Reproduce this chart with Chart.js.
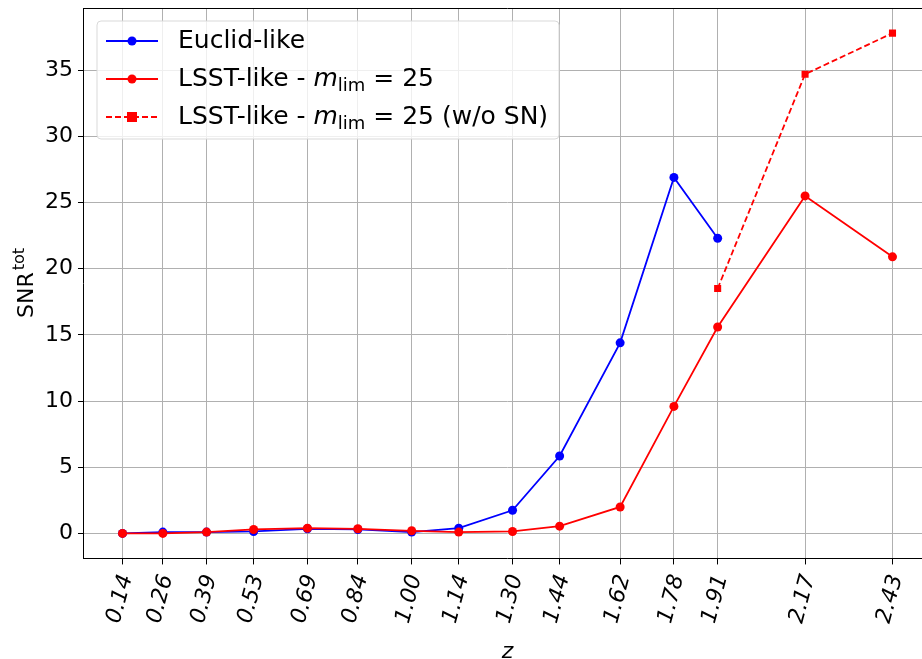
<!DOCTYPE html>
<html>
<head>
<meta charset="utf-8">
<script src="https://cdn.jsdelivr.net/npm/chart.js@4.4.1/dist/chart.umd.min.js"></script>
<style>
  html, body { margin: 0; padding: 0; background: #fff; overflow: hidden; }
  #wrap { width: 940px; height: 659px; position: relative; }
</style>
</head>
<body>
<div id="wrap"><canvas id="snrChart"></canvas></div>
<script>
// redshift bins (x positions) and their tick labels
const zBins = [0.14, 0.26, 0.39, 0.53, 0.69, 0.84, 1.00, 1.14, 1.30, 1.44, 1.62, 1.78, 1.91, 2.17, 2.43];
const zLabels = ['0.14', '0.26', '0.39', '0.53', '0.69', '0.84', '1.00', '1.14', '1.30', '1.44', '1.62', '1.78', '1.91', '2.17', '2.43'];
const yTicks = [0, 5, 10, 15, 20, 25, 30, 35];

// SNR values
const euclidSNR = [0.0, 0.1, 0.1, 0.15, 0.35, 0.3, 0.1, 0.4, 1.75, 5.85, 14.4, 26.9, 22.3];
const lsstSNR = [0.0, 0.0, 0.1, 0.3, 0.4, 0.35, 0.2, 0.1, 0.15, 0.55, 2.0, 9.6, 15.6, 25.5, 20.9];
const lsstNoSN_z = [1.91, 2.17, 2.43];
const lsstNoSN = [18.5, 34.7, 37.8];

const FONT = "'DejaVu Sans', sans-serif";

function toXY(xs, ys) {
    return ys.map((y, i) => ({ x: xs[i], y: y }));
}

// legend with the m_lim subscript, drawn by hand
const mathLegend = {
    id: 'mathLegend',
    afterDraw(chart) {
        const ctx = chart.ctx;
        const x0 = 97, y0 = 21, w = 462, h = 118;
        ctx.save();
        ctx.beginPath();
        ctx.roundRect(x0, y0, w, h, 4);
        ctx.fillStyle = 'rgba(255,255,255,0.8)';
        ctx.fill();
        ctx.strokeStyle = '#d9d9d9';
        ctx.lineWidth = 1;
        ctx.stroke();

        const rows = [41, 79, 117];
        chart.data.datasets.forEach((ds, i) => {
            const y = rows[i];
            ctx.strokeStyle = ds.borderColor;
            ctx.lineWidth = ds.borderWidth;
            ctx.setLineDash(ds.borderDash || []);
            ctx.beginPath();
            ctx.moveTo(106, y);
            ctx.lineTo(158, y);
            ctx.stroke();
            ctx.setLineDash([]);
            ctx.fillStyle = ds.pointBackgroundColor;
            if (ds.pointStyle === 'rect') {
                ctx.fillRect(132 - 5, y - 5, 10, 10);
            } else {
                ctx.beginPath();
                ctx.arc(132, y, 4.5, 0, Math.PI * 2);
                ctx.fill();
            }

            ctx.fillStyle = '#000';
            ctx.textBaseline = 'middle';
            ctx.textAlign = 'left';
            let tx = 178;
            ds.legendParts.forEach(p => {
                if (p.sub) {
                    ctx.font = `18px ${FONT}`;
                    ctx.fillText(p.t, tx, y + 7);
                } else if (p.it) {
                    ctx.font = `italic 25px ${FONT}`;
                    ctx.fillText(p.t, tx, y);
                } else {
                    ctx.font = `25px ${FONT}`;
                    ctx.fillText(p.t, tx, y);
                }
                tx += ctx.measureText(p.t).width;
            });
        });
        ctx.restore();
    }
};

// y title with superscript, plus the top spine
const extras = {
    id: 'extras',
    afterDraw(chart) {
        const ctx = chart.ctx;
        const area = chart.chartArea;
        ctx.save();
        ctx.strokeStyle = '#000';
        ctx.lineWidth = 1;
        ctx.beginPath();
        ctx.moveTo(area.left, area.top + 0.5);
        ctx.lineTo(area.right, area.top + 0.5);
        ctx.stroke();

        ctx.translate(33, 283);
        ctx.rotate(-Math.PI / 2);
        ctx.fillStyle = '#000';
        ctx.textBaseline = 'alphabetic';
        ctx.textAlign = 'left';
        ctx.font = `22px ${FONT}`;
        const mw = ctx.measureText('SNR').width;
        ctx.font = `16px ${FONT}`;
        const sw = ctx.measureText('tot').width;
        const start = -(mw + sw + 2) / 2;
        ctx.font = `22px ${FONT}`;
        ctx.fillText('SNR', start, 0);
        ctx.font = `16px ${FONT}`;
        ctx.fillText('tot', start + mw + 2, -9);
        ctx.restore();
    }
};

new Chart(document.getElementById('snrChart').getContext('2d'), {
    type: 'line',
    data: {
        datasets: [
            {
                label: 'Euclid-like',
                legendParts: [{ t: 'Euclid-like' }],
                data: toXY(zBins, euclidSNR),
                borderColor: '#0000ff',
                pointBackgroundColor: '#0000ff',
                pointBorderColor: '#0000ff',
                borderWidth: 1.8,
                pointRadius: 4.5,
                pointBorderWidth: 0,
                order: 3
            },
            {
                label: 'LSST-like - m_lim = 25',
                legendParts: [{ t: 'LSST-like - ' }, { t: 'm', it: true }, { t: 'lim', sub: true }, { t: ' = 25' }],
                data: toXY(zBins, lsstSNR),
                borderColor: '#ff0000',
                pointBackgroundColor: '#ff0000',
                pointBorderColor: '#ff0000',
                borderWidth: 1.8,
                pointRadius: 4.5,
                pointBorderWidth: 0,
                order: 2
            },
            {
                label: 'LSST-like - m_lim = 25 (w/o SN)',
                legendParts: [{ t: 'LSST-like - ' }, { t: 'm', it: true }, { t: 'lim', sub: true }, { t: ' = 25 (w/o SN)' }],
                data: toXY(lsstNoSN_z, lsstNoSN),
                borderColor: '#ff0000',
                pointBackgroundColor: '#ff0000',
                pointBorderColor: '#ff0000',
                borderWidth: 1.8,
                borderDash: [6, 3],
                pointStyle: 'rect',
                pointRadius: 5,
                pointBorderWidth: 0,
                order: 1
            }
        ]
    },
    options: {
        responsive: true,
        maintainAspectRatio: false,
        animation: false,
        layout: { padding: { top: 8, left: 40, right: 9, bottom: -6 } },
        plugins: {
            legend: { display: false },
            tooltip: { enabled: false }
        },
        scales: {
            x: {
                type: 'linear',
                min: 0.0255,
                max: 2.5445,
                afterBuildTicks: (scale) => {
                    scale.ticks = zBins.map(v => ({ value: v }));
                },
                ticks: {
                    callback: (value, index) => zLabels[index],
                    minRotation: 75,
                    maxRotation: 75,
                    autoSkip: false,
                    labelOffset: 4,
                    padding: 7.5,
                    color: '#000',
                    font: { family: FONT, size: 22, style: 'italic' }
                },
                grid: {
                    color: '#b0b0b0',
                    tickColor: '#000',
                    tickLength: 6,
                    lineWidth: 1
                },
                border: { color: '#000', width: 1 },
                title: {
                    display: true,
                    text: 'z',
                    color: '#000',
                    padding: { top: 5, bottom: 0 },
                    font: { family: FONT, size: 22, style: 'italic' }
                }
            },
            y: {
                type: 'linear',
                min: -1.89,
                max: 39.7,
                afterBuildTicks: (scale) => {
                    scale.ticks = yTicks.map(v => ({ value: v }));
                },
                afterFit: (scale) => {
                    scale.paddingTop = 0;
                    scale.paddingBottom = 0;
                },
                ticks: {
                    color: '#000',
                    padding: 5,
                    font: { family: FONT, size: 22 }
                },
                grid: {
                    color: '#b0b0b0',
                    tickColor: '#000',
                    tickLength: 6,
                    lineWidth: 1
                },
                border: { color: '#000', width: 1 }
            }
        }
    },
    plugins: [mathLegend, extras]
});
</script>
</body>
</html>
